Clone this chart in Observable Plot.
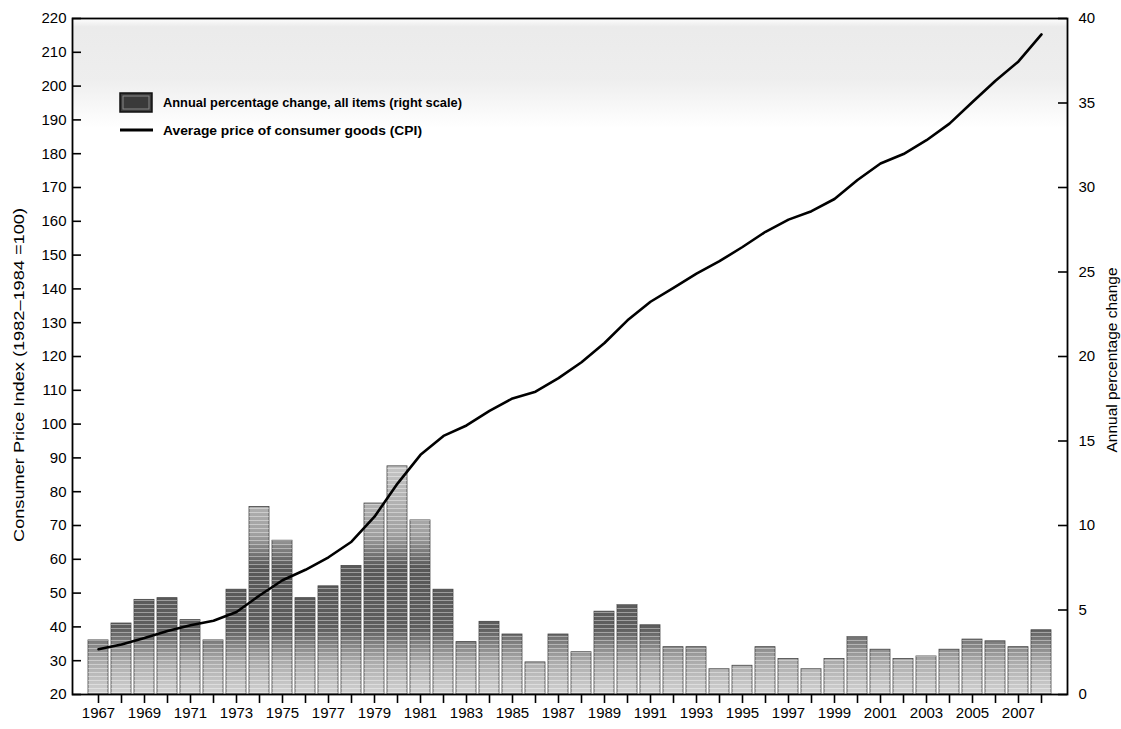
<!DOCTYPE html>
<html>
<head>
<meta charset="utf-8">
<script src="https://cdn.jsdelivr.net/npm/d3@7"></script>
<script src="https://cdn.jsdelivr.net/npm/@observablehq/plot@0.6"></script>
<style>
  html, body { margin: 0; padding: 0; background: white; }
  #chart { width: 1121px; height: 729px; }
</style>
</head>
<body>
<div id="chart"></div>
<script>
const years = [1967,1968,1969,1970,1971,1972,1973,1974,1975,1976,1977,1978,1979,1980,1981,1982,1983,1984,1985,1986,1987,1988,1989,1990,1991,1992,1993,1994,1995,1996,1997,1998,1999,2000,2001,2002,2003,2004,2005,2006,2007,2008];
const cpi = [33.4,34.8,36.7,38.8,40.5,41.8,44.4,49.3,53.8,56.9,60.6,65.2,72.6,82.4,90.9,96.5,99.6,103.9,107.6,109.6,113.6,118.3,124.0,130.7,136.2,140.3,144.5,148.2,152.4,156.9,160.5,163.0,166.6,172.2,177.1,179.9,184.0,188.9,195.3,201.6,207.3,215.3];
const pctChange = [3.2,4.2,5.6,5.7,4.4,3.2,6.2,11.1,9.1,5.7,6.4,7.6,11.3,13.5,10.3,6.2,3.1,4.3,3.55,1.9,3.55,2.5,4.9,5.3,4.1,2.8,2.8,1.5,1.7,2.8,2.1,1.5,2.1,3.4,2.65,2.1,2.25,2.65,3.25,3.15,2.8,3.8];
const leftTicks = [20,30,40,50,60,70,80,90,100,110,120,130,140,150,160,170,180,190,200,210,220];
const rightTicks = [0,5,10,15,20,25,30,35,40];
const leftLabel = "Consumer Price Index (1982\u20131984 =100)";
const rightLabel = "Annual percentage change";
const legendLabels = ["Annual percentage change, all items (right scale)", "Average price of consumer goods (CPI)"];

// right scale (0..40) mapped onto left scale (20..220)
const toLeft = p => 20 + p * 5;
const data = years.map((y, i) => ({year: y, cpi: cpi[i], pct: pctChange[i]}));
const rightTicksLeft = rightTicks.map(toLeft);

const W = 1121, H = 729, mL = 72, mR = 54, mT = 18, mB = 35;
const innerW = W - mL - mR;

const plot = Plot.plot({
  width: W, height: H,
  marginLeft: mL, marginRight: mR, marginTop: mT, marginBottom: mB,
  style: {fontFamily: "Liberation Sans, Arial, sans-serif", fontSize: "15px", background: "white", color: "black"},
  x: {type: "band", domain: years, paddingInner: 0.15, paddingOuter: 0.43},
  y: {domain: [20, 220]},
  marks: [
    Plot.barY(data, {x: "year", y1: 20, y2: d => toLeft(d.pct), fill: "url(#barGrad)", stroke: "#444", strokeWidth: 0.8}),
    Plot.barY(data, {x: "year", y1: 20, y2: d => toLeft(d.pct), fill: "url(#hatch)"}),
    Plot.line(data, {x: "year", y: "cpi", stroke: "black", strokeWidth: 2.6}),
    Plot.frame({stroke: "black", strokeWidth: 1.8}),
    Plot.axisX({ticks: years, tickSize: 9, tickPadding: 4, strokeWidth: 1.6, tickFormat: d => d % 2 ? String(d) : "", label: null}),
    Plot.axisY({anchor: "left", ticks: leftTicks, tickSize: 0, tickPadding: 6, label: null}),
    Plot.ruleY(leftTicks, {y: d => d, insetRight: innerW - 9, strokeWidth: 1.6}),
    Plot.axisY({anchor: "right", ticks: rightTicksLeft, tickFormat: d => String((d - 20) / 5), tickSize: 0, tickPadding: 11, label: null}),
    Plot.ruleY(rightTicksLeft, {y: d => d, insetLeft: innerW - 9, strokeWidth: 1.6})
  ]
});

const svg = d3.select(plot);
const defs = svg.insert("defs", ":first-child");
const g = defs.append("linearGradient").attr("id", "barGrad")
  .attr("gradientUnits", "userSpaceOnUse").attr("x1", 0).attr("x2", 0).attr("y1", 460).attr("y2", 694);
[[0, "#c8c8c8"], [0.32, "#a0a0a0"], [0.46, "#585858"], [0.72, "#5e5e5e"], [0.86, "#ababab"], [1, "#d2d2d2"]]
  .forEach(([o, c]) => g.append("stop").attr("offset", o).attr("stop-color", c));
const pat = defs.append("pattern").attr("id", "hatch").attr("patternUnits", "userSpaceOnUse").attr("width", 4).attr("height", 4);
pat.append("rect").attr("x", 0).attr("y", 0).attr("width", 4).attr("height", 1).attr("fill", "white").attr("opacity", 0.4);

// faint scanned-gray band at the top of the plot area
const bg = defs.append("linearGradient").attr("id", "bgGrad").attr("x1", 0).attr("x2", 0).attr("y1", 0).attr("y2", 1);
[[0, "#ffffff"], [0.08, "#e4e4e4"], [0.55, "#e8e8e8"], [1, "#ffffff"]]
  .forEach(([o, c]) => bg.append("stop").attr("offset", o).attr("stop-color", c));
svg.insert("rect", "defs + *").attr("x", mL).attr("y", mT).attr("width", innerW).attr("height", 110).attr("fill", "url(#bgGrad)").attr("opacity", 0.75);

const font = "Liberation Sans, Arial, sans-serif";
// axis titles
svg.append("text").attr("transform", "translate(18,375) rotate(-90)")
  .attr("text-anchor", "middle").attr("dominant-baseline", "central")
  .attr("font-family", font).attr("font-size", 15)
  .attr("textLength", 334).attr("lengthAdjust", "spacingAndGlyphs").text(leftLabel);
svg.append("text").attr("transform", "translate(1112,360) rotate(-90)")
  .attr("text-anchor", "middle").attr("dominant-baseline", "central")
  .attr("font-family", font).attr("font-size", 14)
  .attr("textLength", 185).attr("lengthAdjust", "spacingAndGlyphs").text(rightLabel);

// legend
const lg = svg.append("g").attr("font-family", font).attr("font-size", 13).attr("font-weight", "bold").attr("text-anchor", "start");
lg.append("rect").attr("x", 120).attr("y", 93).attr("width", 32).attr("height", 19).attr("fill", "#3a3a3a").attr("stroke", "#111").attr("stroke-width", 1.5);
lg.append("rect").attr("x", 123).attr("y", 96).attr("width", 26).attr("height", 13).attr("fill", "none").attr("stroke", "#888").attr("stroke-width", 1);
lg.append("line").attr("x1", 120).attr("x2", 153).attr("y1", 130).attr("y2", 130).attr("stroke", "black").attr("stroke-width", 3);
lg.append("text").attr("x", 163).attr("y", 102).attr("dominant-baseline", "central").attr("text-anchor", "start")
  .attr("textLength", 299).attr("lengthAdjust", "spacingAndGlyphs").text(legendLabels[0]);
lg.append("text").attr("x", 163).attr("y", 130).attr("dominant-baseline", "central").attr("text-anchor", "start")
  .attr("textLength", 259).attr("lengthAdjust", "spacingAndGlyphs").text(legendLabels[1]);

document.getElementById("chart").appendChild(plot);
</script>
</body>
</html>
